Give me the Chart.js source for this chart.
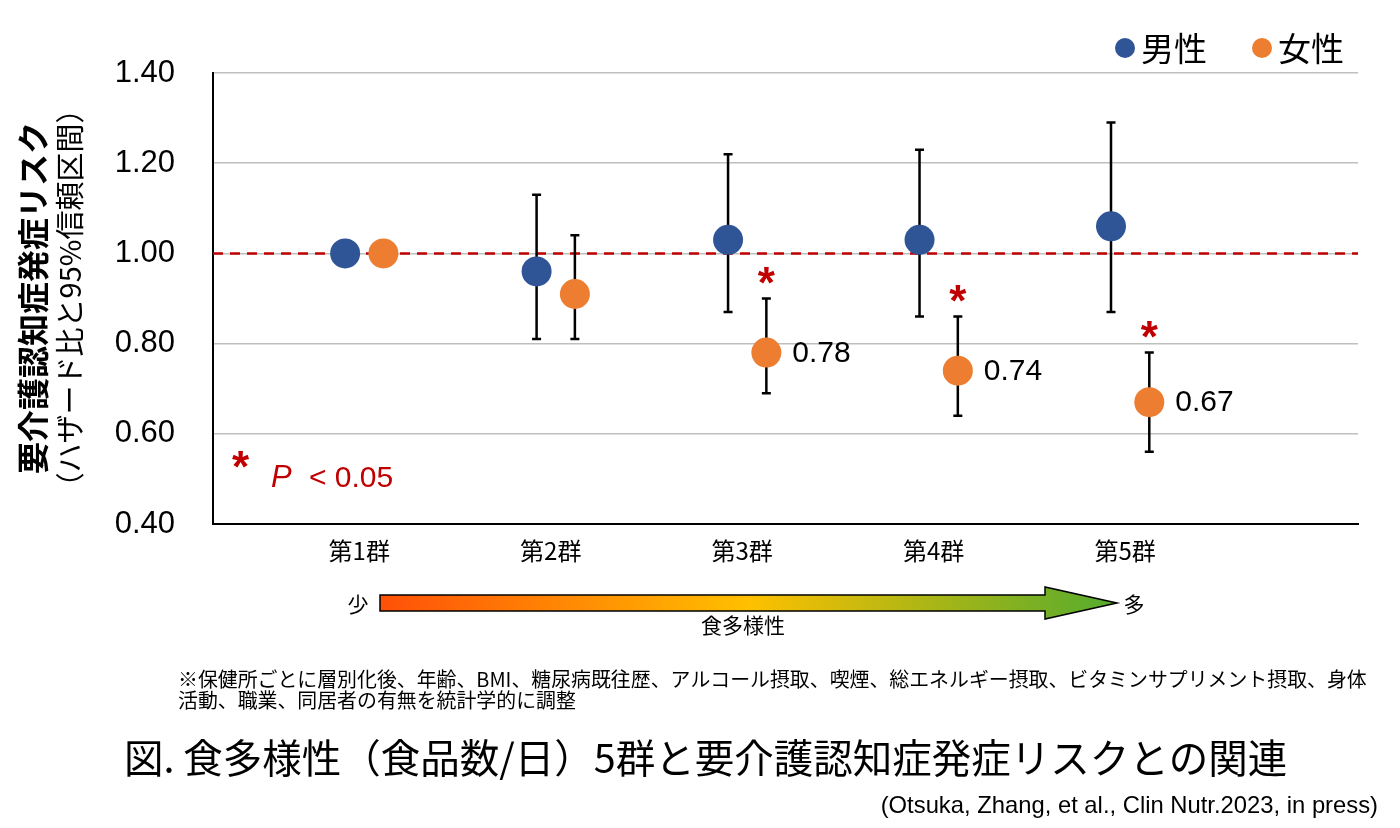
<!DOCTYPE html>
<html>
<head>
<meta charset="utf-8">
<script src="https://cdn.jsdelivr.net/npm/chart.js@4.4.0/dist/chart.umd.min.js"></script>
<style>
  html, body { margin: 0; padding: 0; background: #fff; }
  #wrap { width: 1400px; height: 828px; }
</style>
</head>
<body>
<div id="wrap"><canvas id="riskChart" width="1400" height="828"></canvas></div>
<script>
// data
const groups = ['第1群', '第2群', '第3群', '第4群', '第5群'];
const maleHR = [1.00, 0.96, 1.03, 1.03, 1.06];
const maleLow = [null, 0.81, 0.87, 0.86, 0.87];
const maleHigh = [null, 1.13, 1.22, 1.23, 1.29];
const femaleHR = [1.00, 0.91, 0.78, 0.74, 0.67];
const femaleLow = [null, 0.81, 0.69, 0.64, 0.56];
const femaleHigh = [null, 1.04, 0.90, 0.86, 0.78];
const femaleSig = [false, false, true, true, true];
const yTicks = [0.40, 0.60, 0.80, 1.00, 1.20, 1.40];
const refLine = 1.00;

const JP = '"Noto Sans CJK JP", "Noto Sans", sans-serif';
const AR = '"Liberation Sans", Arial, sans-serif';
const BLUE = '#2f5597', ORANGE = '#ed7d31', RED = '#c00000';

const pts = (vals, off) => vals.map((v, i) => ({ x: i + 1 + off, y: v }));

const extras = {
    id: 'extras',
    beforeDatasetsDraw(chart) {
        const ctx = chart.ctx, xs = chart.scales.x, ys = chart.scales.y, a = chart.chartArea;
        // reference line at HR = 1
        ctx.save();
        ctx.strokeStyle = RED;
        ctx.lineWidth = 2.5;
        ctx.setLineDash([10, 7]);
        const yr = ys.getPixelForValue(refLine);
        ctx.beginPath(); ctx.moveTo(a.left, yr); ctx.lineTo(a.right, yr); ctx.stroke();
        ctx.restore();
        // error bars
        const sets = [[maleLow, maleHigh, -0.1], [femaleLow, femaleHigh, 0.1]];
        ctx.save();
        ctx.strokeStyle = '#000';
        ctx.lineWidth = 2.5;
        sets.forEach(([lo, hi, off]) => {
            lo.forEach((l, i) => {
                if (l == null) return;
                const x = xs.getPixelForValue(i + 1 + off);
                const y1 = ys.getPixelForValue(l), y2 = ys.getPixelForValue(hi[i]);
                ctx.beginPath();
                ctx.moveTo(x, y1); ctx.lineTo(x, y2);
                ctx.moveTo(x - 4.5, y1); ctx.lineTo(x + 4.5, y1);
                ctx.moveTo(x - 4.5, y2); ctx.lineTo(x + 4.5, y2);
                ctx.stroke();
            });
        });
        ctx.restore();
    },
    afterDraw(chart) {
        const ctx = chart.ctx, xs = chart.scales.x, ys = chart.scales.y;
        ctx.save();

        // significance stars and value labels for women
        femaleHR.forEach((v, i) => {
            if (!femaleSig[i]) return;
            const x = xs.getPixelForValue(i + 1 + 0.1);
            ctx.fillStyle = RED;
            ctx.font = 'bold 44px ' + AR;
            ctx.textAlign = 'center';
            ctx.textBaseline = 'alphabetic';
            ctx.fillText('*', x, ys.getPixelForValue(femaleHigh[i]) - 1);
            ctx.fillStyle = '#000';
            ctx.font = '30px ' + AR;
            ctx.textAlign = 'left';
            ctx.textBaseline = 'middle';
            ctx.fillText(v.toFixed(2), x + 26, ys.getPixelForValue(v) + 1);
        });

        // P < 0.05 note
        ctx.fillStyle = RED;
        ctx.textBaseline = 'alphabetic';
        ctx.textAlign = 'left';
        ctx.font = 'bold 44px ' + AR;
        ctx.fillText('*', 232, 482);
        ctx.font = 'italic 31px ' + AR;
        ctx.fillText('P', 271, 487);
        ctx.font = '30px ' + AR;
        ctx.fillText('< 0.05', 309, 487);

        // legend
        ctx.textBaseline = 'middle';
        [[BLUE, '男性', 1125], [ORANGE, '女性', 1262]].forEach(([c, t, x]) => {
            ctx.fillStyle = c;
            ctx.beginPath(); ctx.arc(x, 48, 10, 0, Math.PI * 2); ctx.fill();
            ctx.fillStyle = '#000';
            ctx.font = '33px ' + JP;
            ctx.fillText(t, x + 16, 48);
        });

        // y axis title (rotated)
        ctx.textAlign = 'center';
        ctx.save();
        ctx.translate(33, 298);
        ctx.rotate(-Math.PI / 2);
        ctx.font = 'bold 32px ' + JP;
        ctx.fillText('要介護認知症発症リスク', 0, 0);
        ctx.restore();
        ctx.save();
        ctx.translate(70, 298);
        ctx.rotate(-Math.PI / 2);
        ctx.font = '29px ' + JP;
        ctx.fillText('（ハザード比と95%信頼区間）', 0, 0);
        ctx.restore();

        // food diversity arrow
        const g = ctx.createLinearGradient(380, 0, 1117, 0);
        g.addColorStop(0, '#ff5008');
        g.addColorStop(0.5, '#ffc000');
        g.addColorStop(1, '#54ab2e');
        ctx.beginPath();
        ctx.moveTo(380, 595); ctx.lineTo(1045, 595); ctx.lineTo(1045, 587);
        ctx.lineTo(1117, 603); ctx.lineTo(1045, 619); ctx.lineTo(1045, 611);
        ctx.lineTo(380, 611); ctx.closePath();
        ctx.fillStyle = g; ctx.fill();
        ctx.strokeStyle = '#000'; ctx.lineWidth = 1.5; ctx.stroke();
        ctx.fillStyle = '#000';
        ctx.font = '21px ' + JP;
        ctx.fillText('少', 358, 604);
        ctx.fillText('多', 1134, 604);
        ctx.fillText('食多様性', 743, 625);

        // footnote
        ctx.textAlign = 'left';
        ctx.font = '19.9px ' + JP;
        ctx.fillText('※保健所ごとに層別化後、年齢、BMI、糖尿病既往歴、アルコール摂取、喫煙、総エネルギー摂取、ビタミンサプリメント摂取、身体', 178, 679);
        ctx.fillText('活動、職業、同居者の有無を統計学的に調整', 178, 700);

        // caption
        ctx.font = '39.5px ' + JP;
        ctx.fillText('図. 食多様性（食品数/日）5群と要介護認知症発症リスクとの関連', 124, 758);

        // citation
        ctx.textAlign = 'right';
        ctx.font = '23.8px ' + AR;
        ctx.fillText('(Otsuka, Zhang, et al., Clin Nutr.2023, in press)', 1378, 806);

        ctx.restore();
    }
};

new Chart(document.getElementById('riskChart').getContext('2d'), {
    type: 'scatter',
    data: {
        datasets: [
            { label: '男性', data: pts(maleHR, -0.1), backgroundColor: BLUE, borderWidth: 0, pointRadius: 15, pointHoverRadius: 15 },
            { label: '女性', data: pts(femaleHR, 0.1), backgroundColor: ORANGE, borderWidth: 0, pointRadius: 15, pointHoverRadius: 15 }
        ]
    },
    options: {
        responsive: false,
        animation: false,
        events: [],
        layout: { padding: { top: 73, right: 42, left: 0, bottom: 0 } },
        plugins: { legend: { display: false }, tooltip: { enabled: false } },
        scales: {
            x: {
                type: 'linear', min: 0.21, max: 6.19,
                afterBuildTicks: (s) => { s.ticks = groups.map((g, i) => ({ value: i + 1 })); },
                afterFit: (s) => { s.height = 304; },
                ticks: {
                    autoSkip: false, maxRotation: 0, padding: 4, labelOffset: -5, color: '#000',
                    font: { family: JP, size: 24 },
                    callback: (v) => groups[v - 1] || ''
                },
                grid: { display: false },
                border: { display: true, color: '#000', width: 2 }
            },
            y: {
                min: 0.4, max: 1.4,
                afterBuildTicks: (s) => { s.ticks = yTicks.map(v => ({ value: v })); },
                afterFit: (s) => { s.width = 213; },
                ticks: {
                    padding: 38, color: '#000',
                    font: { family: AR, size: 31 },
                    callback: (v) => Number(v).toFixed(2)
                },
                grid: { color: '#bfbfbf', lineWidth: 1.5, drawTicks: false },
                border: { display: true, color: '#000', width: 2 }
            }
        }
    },
    plugins: [extras]
});
</script>
</body>
</html>
